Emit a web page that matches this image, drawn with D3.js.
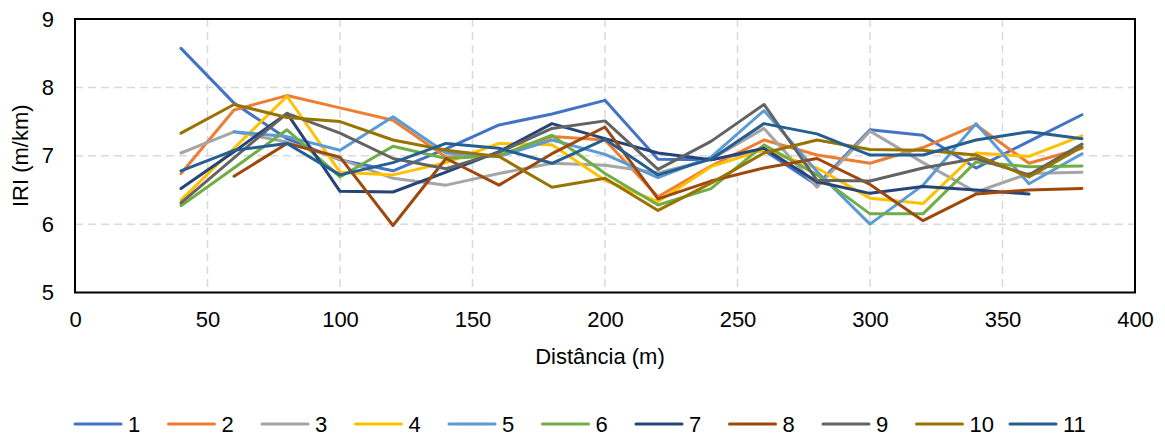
<!DOCTYPE html>
<html>
<head>
<meta charset="utf-8">
<script src="https://cdn.jsdelivr.net/npm/d3@7"></script>
<style>
  html, body { margin: 0; padding: 0; background: #fff; }
  svg text { font-family: "Liberation Sans", Arial, sans-serif; fill: #000; }
</style>
</head>
<body>
<svg id="chart" width="1165" height="438"></svg>
<script>
// Distance along the section (m)
const distances = [40, 60, 80, 100, 120, 140, 160, 180, 200, 220, 240, 260, 280, 300, 320, 340, 360, 380];

// IRI (m/km) per run, null where a run has no reading
const run1  = [8.57, 7.77, 7.25, 6.94, 6.78, 7.10, 7.45, 7.61, 7.81, 6.95, 6.94, 7.08, 6.57, 7.38, 7.30, 6.82, 7.21, 7.60];
const run2  = [6.74, 7.67, 7.88, 7.70, 7.52, 6.98, 7.00, 7.28, 7.23, 6.40, 6.85, 7.23, 7.01, 6.89, 7.12, 7.45, 6.89, 7.11];
const run3  = [7.04, 7.35, 7.20, 6.95, 6.67, 6.57, 6.74, 6.89, 6.86, 6.75, 6.95, 7.40, 6.54, 7.36, 6.90, 6.47, 6.74, 6.76];
const run4  = [6.35, 7.11, 7.87, 6.76, 6.72, 6.90, 7.18, 7.16, 6.64, 6.33, 6.84, 7.09, 6.82, 6.38, 6.30, 7.04, 6.99, 7.29];
const run5  = [null, 7.35, 7.28, 7.08, 7.57, 7.04, 6.99, 7.23, 7.02, 6.68, 6.98, 7.66, 6.77, 6.00, 6.57, 7.47, 6.59, 7.03];
const run6  = [6.27, 6.82, 7.38, 6.69, 7.14, 6.96, 7.00, 7.30, 6.74, 6.28, 6.52, 7.16, 6.72, 6.15, 6.15, 6.91, 6.84, 6.85];
const run7  = [6.52, 7.06, 7.62, 6.48, 6.47, 6.76, 7.06, 7.47, 7.25, 7.04, 6.94, 7.11, 6.62, 6.45, 6.55, 6.50, 6.44, null];
const run8  = [null, 6.70, 7.18, 6.98, 5.98, 6.96, 6.57, 7.03, 7.42, 6.37, 6.63, 6.82, 6.96, 6.58, 6.05, 6.44, 6.50, 6.52];
const run9  = [6.31, 6.97, 7.62, 7.33, 6.96, 6.81, 7.05, 7.40, 7.51, 6.80, 7.21, 7.75, 6.64, 6.63, 6.82, 6.96, 6.72, 7.17];
const run10 = [7.33, 7.75, 7.56, 7.50, 7.23, 7.08, 6.99, 6.54, 6.67, 6.20, 6.60, 7.04, 7.23, 7.09, 7.08, 7.01, 6.69, 7.13];
const run11 = [6.78, 7.08, 7.18, 6.72, 6.90, 7.18, 7.11, 6.89, 7.24, 6.72, 6.95, 7.47, 7.32, 7.01, 7.01, 7.23, 7.35, 7.25];

const seriesNames = ["1", "2", "3", "4", "5", "6", "7", "8", "9", "10", "11"];
const seriesValues = [run1, run2, run3, run4, run5, run6, run7, run8, run9, run10, run11];
const seriesColors = ["#4472C4", "#ED7D31", "#A5A5A5", "#FFC000", "#5B9BD5", "#70AD47",
                      "#264478", "#9E480E", "#636363", "#997300", "#255E91"];

const xTicks = [0, 50, 100, 150, 200, 250, 300, 350, 400];
const yTicks = [5, 6, 7, 8, 9];

const FONT = 22;
const svg = d3.select("#chart");
const plot = { left: 75, right: 1135, top: 19, bottom: 292.5 };

const x = d3.scaleLinear().domain([0, 400]).range([plot.left, plot.right]);
const y = d3.scaleLinear().domain([5, 9]).range([plot.bottom, plot.top]);

// Dashed grid
const grid = svg.append("g");
grid.selectAll("line.gx").data(xTicks.slice(1, -1)).join("line")
  .attr("x1", d => x(d)).attr("x2", d => x(d))
  .attr("y1", plot.top).attr("y2", plot.bottom)
  .attr("stroke", "#D9D9D9").attr("stroke-width", 1.5).attr("stroke-dasharray", "8,5");
grid.selectAll("line.gy").data(yTicks.slice(1, -1)).join("line")
  .attr("x1", plot.left).attr("x2", plot.right)
  .attr("y1", d => y(d)).attr("y2", d => y(d))
  .attr("stroke", "#D9D9D9").attr("stroke-width", 1.5).attr("stroke-dasharray", "8,5");

// Axes (labels only; the frame is drawn separately)
const xAxis = svg.append("g").attr("transform", `translate(0,${plot.bottom})`)
  .call(d3.axisBottom(x).tickValues(xTicks).tickSize(0).tickPadding(19).tickFormat(d3.format("d")));
const yAxis = svg.append("g").attr("transform", `translate(${plot.left},0)`)
  .call(d3.axisLeft(y).tickValues(yTicks).tickSize(0).tickPadding(21).tickFormat(d3.format("d")));
[xAxis, yAxis].forEach(a => {
  a.select(".domain").remove();
  a.selectAll("text").attr("font-size", FONT).attr("fill", "#000")
    .style("font-family", '"Liberation Sans", Arial, sans-serif');
});

// Lines
const line = d3.line()
  .defined(d => d[1] !== null)
  .x(d => x(d[0]))
  .y(d => y(d[1]));

svg.append("g").selectAll("path").data(seriesValues).join("path")
  .attr("d", vals => line(distances.map((dist, i) => [dist, vals[i]])))
  .attr("fill", "none")
  .attr("stroke", (d, i) => seriesColors[i])
  .attr("stroke-width", 3)
  .attr("stroke-linejoin", "round")
  .attr("stroke-linecap", "round");

// Plot frame
svg.append("rect")
  .attr("x", plot.left).attr("y", plot.top)
  .attr("width", plot.right - plot.left).attr("height", plot.bottom - plot.top)
  .attr("fill", "none").attr("stroke", "#000").attr("stroke-width", 2);

// Axis titles
svg.append("text")
  .attr("x", (plot.left + plot.right) / 2 - 5).attr("y", 364)
  .attr("text-anchor", "middle").attr("font-size", FONT)
  .text("Distância (m)");
svg.append("text")
  .attr("transform", `translate(28,${(plot.top + plot.bottom) / 2}) rotate(-90)`)
  .attr("text-anchor", "middle").attr("font-size", FONT)
  .text("IRI (m/km)");

// Legend
const legend = svg.append("g").attr("transform", "translate(75,424)");
const item = legend.selectAll("g").data(seriesNames).join("g")
  .attr("transform", (d, i) => `translate(${i * 93.5},0)`);
item.append("line")
  .attr("x1", 0).attr("x2", 46).attr("y1", 0).attr("y2", 0)
  .attr("stroke", (d, i) => seriesColors[i]).attr("stroke-width", 3)
  .attr("stroke-linecap", "round");
item.append("text")
  .attr("x", 53).attr("y", 0).attr("dy", "0.36em")
  .attr("font-size", FONT)
  .text(d => d);
</script>
</body>
</html>
